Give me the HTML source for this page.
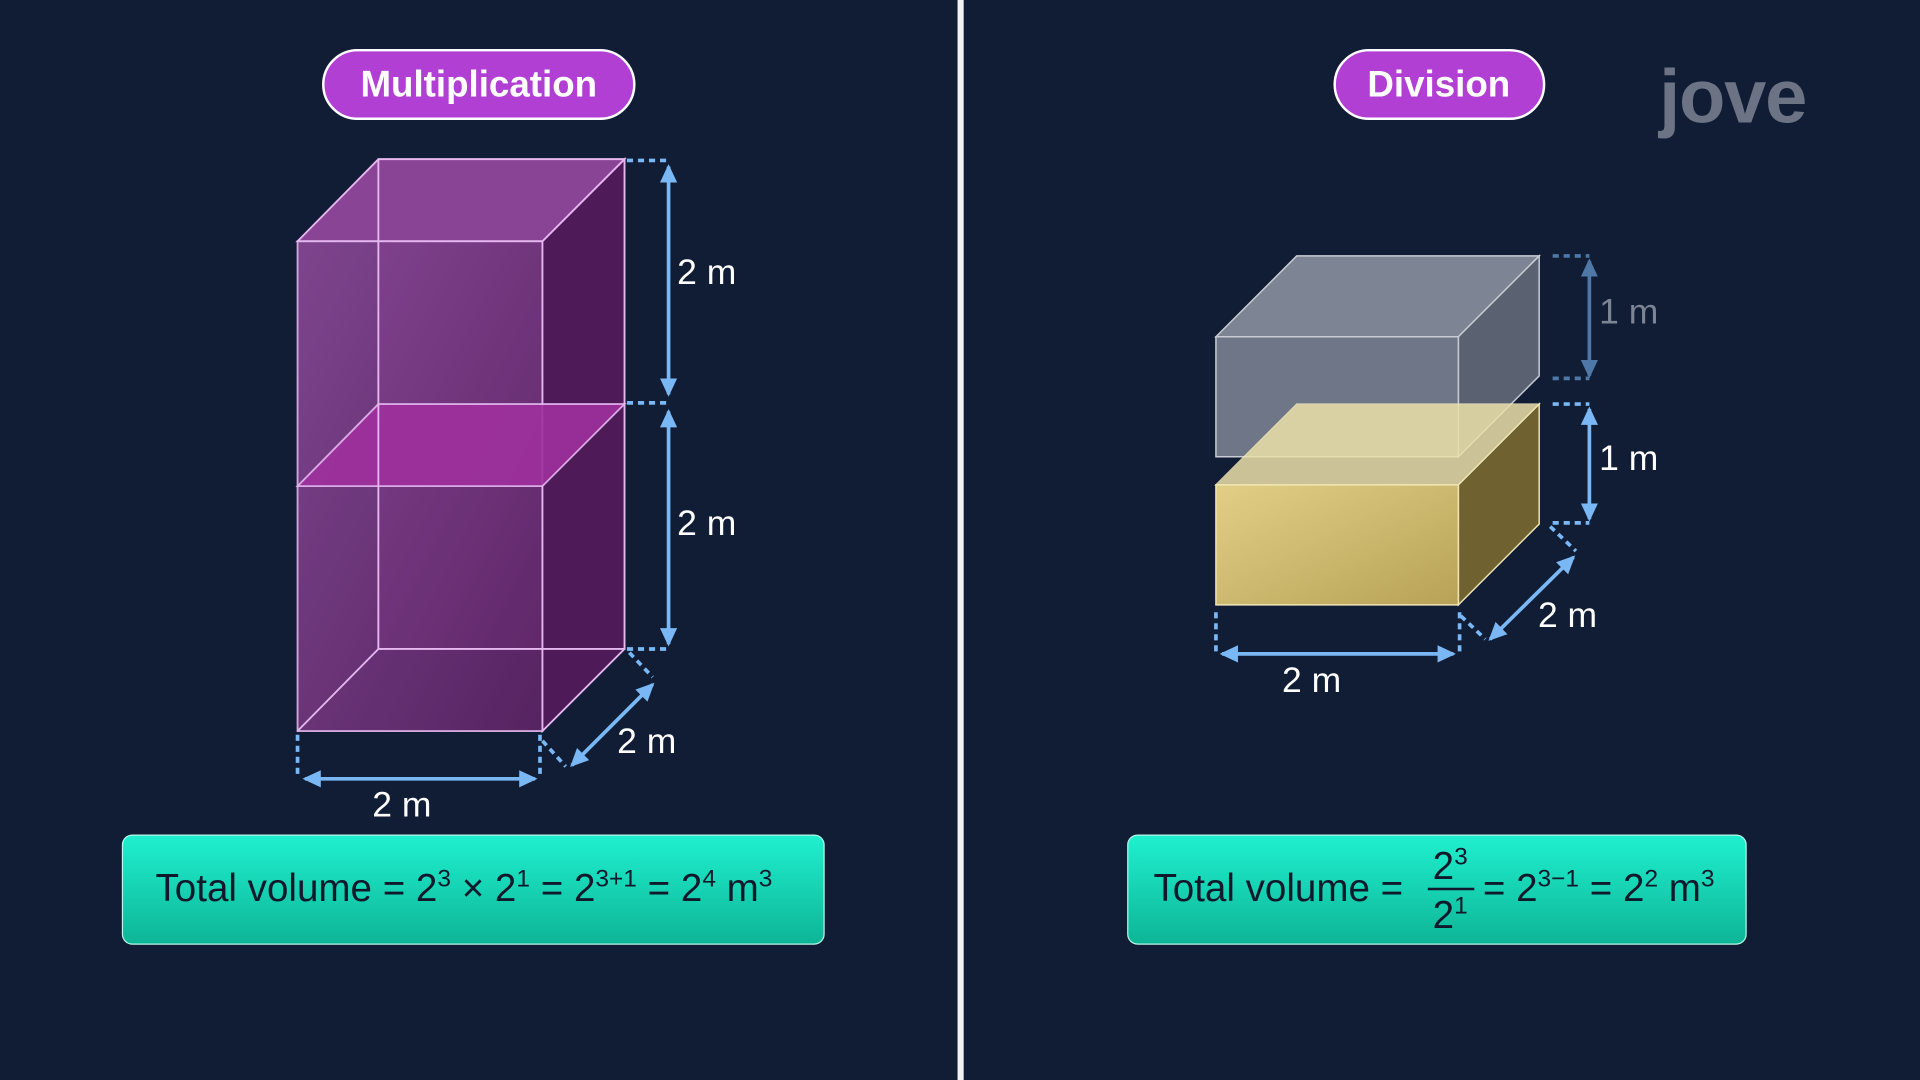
<!DOCTYPE html>
<html><head><meta charset="utf-8"><style>
html,body{margin:0;padding:0;background:#111d35;}
svg{display:block;}
text{font-family:"Liberation Sans","DejaVu Sans",sans-serif;}
</style></head><body>
<svg width="1920" height="1080" viewBox="0 0 1568 882" xmlns="http://www.w3.org/2000/svg">
<defs>
<linearGradient id="g" x1="0" y1="0" x2="0" y2="1"><stop offset="0" stop-color="#1ff0cf"/><stop offset="1" stop-color="#0db596"/></linearGradient>
<linearGradient id="pf" x1="0" y1="0" x2="1" y2="1"><stop offset="0" stop-color="#8a4a98"/><stop offset="1" stop-color="#5e2466"/></linearGradient>
<linearGradient id="yf" x1="0" y1="0" x2="1" y2="1"><stop offset="0" stop-color="#e2cf86"/><stop offset="1" stop-color="#b7a257"/></linearGradient>
<marker id="ah" markerWidth="16" markerHeight="16" refX="13" refY="8" orient="auto-start-reverse" markerUnits="userSpaceOnUse"><path d="M0,1 L15,8 L0,15 Z" fill="#7ab8f5"/></marker>
<marker id="ah2" markerWidth="16" markerHeight="16" refX="13" refY="8" orient="auto-start-reverse" markerUnits="userSpaceOnUse"><path d="M0,1 L15,8 L0,15 Z" fill="#4d78a8"/></marker>
</defs>
<rect width="1568" height="882" fill="#111d35"/>
<rect x="782" y="0" width="5" height="882" fill="#f2f2f2"/>

<rect x="264" y="41" width="254" height="56" rx="28" fill="#b23fd4" stroke="#fff" stroke-width="2"/>
<text x="391" y="79" font-size="30" font-weight="bold" fill="#fff" text-anchor="middle">Multiplication</text>
<rect x="1090" y="41" width="171" height="56" rx="28" fill="#b23fd4" stroke="#fff" stroke-width="2"/>
<text x="1175" y="79" font-size="30" font-weight="bold" fill="#fff" text-anchor="middle">Division</text>

<text x="1355" y="100" font-size="62" font-weight="bold" fill="#6b7385" letter-spacing="-1">jove</text>

<g stroke="#e6b8f0" stroke-width="1.5">
<polygon points="309,130 510,130 510,530 309,530" fill="#5a2a68"/>
<polygon points="243,197 443,197 443,597 243,597" fill="url(#pf)" opacity="0.9"/>
<polygon points="443,197 510,130 510,530 443,597" fill="#4e1a58"/>
<polygon points="243,197 309,130 510,130 443,197" fill="#8a4496"/>
<polygon points="243,397 309,330 510,330 443,397" fill="#a0309e" opacity="0.9"/>
<line x1="309" y1="130" x2="309" y2="530"/>
<line x1="243" y1="597" x2="309" y2="530"/>
<line x1="309" y1="530" x2="510" y2="530"/>
</g>
<g stroke="#7ab8f5" stroke-width="3" fill="none">
<line x1="546" y1="136" x2="546" y2="322" marker-start="url(#ah)" marker-end="url(#ah)"/>
<line x1="546" y1="336" x2="546" y2="526" marker-start="url(#ah)" marker-end="url(#ah)"/>
<line x1="249" y1="636" x2="437" y2="636" marker-start="url(#ah)" marker-end="url(#ah)"/>
<line x1="467" y1="625" x2="533" y2="559" marker-start="url(#ah)" marker-end="url(#ah)"/>
<g stroke-dasharray="5,4">
<line x1="512" y1="131" x2="546" y2="131"/><line x1="512" y1="329" x2="546" y2="329"/><line x1="512" y1="530" x2="546" y2="530"/>
<line x1="243" y1="600" x2="243" y2="636"/><line x1="441" y1="600" x2="441" y2="636"/>
<line x1="443" y1="605" x2="462" y2="626"/><line x1="514" y1="533" x2="533" y2="553"/>
</g></g>
<g font-size="29" fill="#fff">
<text x="553" y="232">2 m</text><text x="553" y="437">2 m</text>
<text x="304" y="667">2 m</text><text x="504" y="615">2 m</text>
</g>

<g stroke="#c9ccd4" stroke-width="1.2">
<polygon points="993,275 1059,209 1257,209 1191,275" fill="#7d8594"/>
<polygon points="1191,275 1257,209 1257,307 1191,373" fill="#5a6272"/>
<polygon points="993,275 1191,275 1191,373 993,373" fill="#6e7687"/>
</g>
<g stroke="#f0e6b6" stroke-width="1.2">
<polygon points="993,396 1059,330 1257,330 1191,396" fill="#ece0a9" opacity="0.85"/>
<polygon points="1191,396 1257,330 1257,428 1191,494" fill="#6f6130"/>
<polygon points="993,396 1191,396 1191,494 993,494" fill="url(#yf)"/>
</g>
<g stroke="#4d78a8" stroke-width="3" fill="none">
<line x1="1298" y1="213" x2="1298" y2="307" marker-start="url(#ah2)" marker-end="url(#ah2)"/>
<g stroke-dasharray="5,4"><line x1="1268" y1="209" x2="1298" y2="209"/><line x1="1268" y1="309" x2="1298" y2="309"/></g>
</g>
<g stroke="#7ab8f5" stroke-width="3" fill="none">
<line x1="1298" y1="334" x2="1298" y2="424" marker-start="url(#ah)" marker-end="url(#ah)"/>
<line x1="998" y1="534" x2="1187" y2="534" marker-start="url(#ah)" marker-end="url(#ah)"/>
<line x1="1217" y1="522" x2="1285" y2="455" marker-start="url(#ah)" marker-end="url(#ah)"/>
<g stroke-dasharray="5,4">
<line x1="1268" y1="330" x2="1298" y2="330"/><line x1="1268" y1="427" x2="1298" y2="427"/>
<line x1="993" y1="500" x2="993" y2="534"/><line x1="1192" y1="500" x2="1192" y2="534"/>
<line x1="1193" y1="503" x2="1213" y2="522"/><line x1="1266" y1="430" x2="1287" y2="450"/>
</g></g>
<g font-size="29">
<text x="1306" y="264" fill="#7d8594">1 m</text>
<text x="1306" y="384" fill="#fff">1 m</text>
<text x="1047" y="565" fill="#fff">2 m</text>
<text x="1256" y="512" fill="#fff">2 m</text>
</g>

<rect x="100" y="682" width="573" height="89" rx="8" fill="url(#g)" stroke="#b8f7ea" stroke-width="1"/>
<text x="127" y="736" font-size="31.5" fill="#10192c">Total volume = 2<tspan font-size="20" dy="-12">3</tspan><tspan dy="12"> × 2</tspan><tspan font-size="20" dy="-12">1</tspan><tspan dy="12"> = 2</tspan><tspan font-size="20" dy="-12">3+1</tspan><tspan dy="12">  = 2</tspan><tspan font-size="20" dy="-12">4</tspan><tspan dy="12"> m</tspan><tspan font-size="20" dy="-12">3</tspan></text>
<rect x="921" y="682" width="505" height="89" rx="8" fill="url(#g)" stroke="#b8f7ea" stroke-width="1"/>
<text x="942" y="736" font-size="31.5" fill="#10192c">Total volume =</text>
<text x="1170" y="718" font-size="31.5" fill="#10192c">2<tspan font-size="20" dy="-12">3</tspan></text>
<line x1="1166" y1="726" x2="1204" y2="726" stroke="#10192c" stroke-width="2"/>
<text x="1170" y="758" font-size="31.5" fill="#10192c">2<tspan font-size="20" dy="-12">1</tspan></text>
<text x="1211" y="736" font-size="31.5" fill="#10192c">= 2<tspan font-size="20" dy="-12">3−1</tspan><tspan dy="12"> = 2</tspan><tspan font-size="20" dy="-12">2</tspan><tspan dy="12"> m</tspan><tspan font-size="20" dy="-12">3</tspan></text>
</svg>
</body></html>
